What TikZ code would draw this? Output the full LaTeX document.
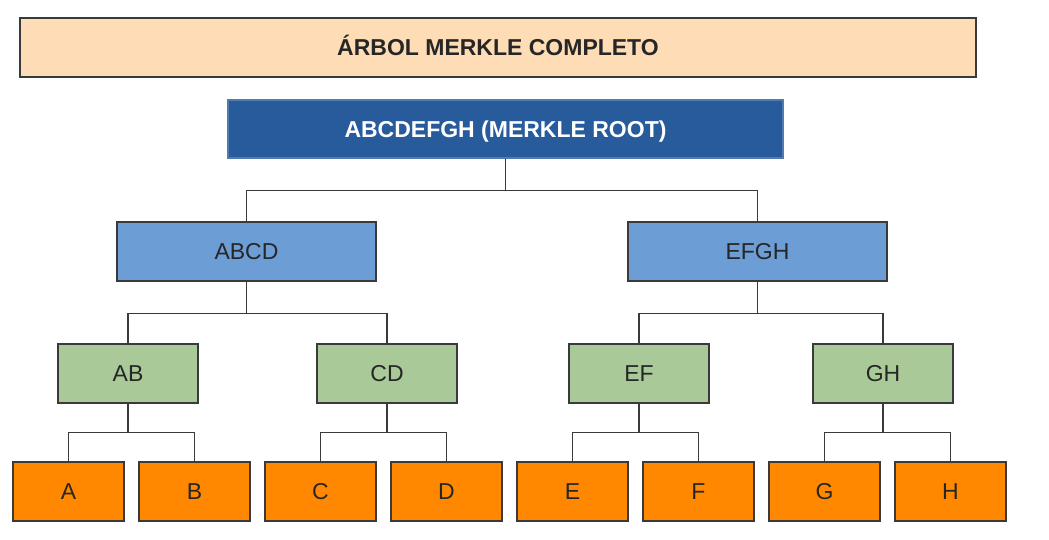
\documentclass[tikz,border=0pt]{standalone}
\usepackage{fontspec}
\setmainfont{Liberation Sans}
\definecolor{peach}{HTML}{FDDCB6}
\definecolor{rootblue}{HTML}{275B9C}
\definecolor{midblue}{HTML}{6D9DD5}
\definecolor{leafgreen}{HTML}{A9C998}
\definecolor{leaforange}{HTML}{FF8800}
\definecolor{edge}{HTML}{3A3A3A}
\begin{document}
\begin{tikzpicture}[x=1pt,y=-1pt,
  box/.style={draw=edge,line width=1.4pt,inner sep=0pt,anchor=center,
    text height=16.5pt,text depth=0pt,
    font=\fontsize{23}{27}\selectfont,text=black!85},
  titlebox/.style={box,fill=peach,minimum width=956pt,minimum height=59pt,font=\fontsize{23}{27}\selectfont\bfseries},
  rootbox/.style={box,draw=rootblue!80,fill=rootblue,text=white,minimum width=555pt,minimum height=58pt,font=\fontsize{23}{27}\selectfont\bfseries},
  hashbox/.style={box,fill=midblue,minimum width=259pt,minimum height=59pt},
  pairbox/.style={box,fill=leafgreen,minimum width=140pt,minimum height=59pt},
  leafbox/.style={box,fill=leaforange,minimum width=111pt,minimum height=59pt},
  link/.style={draw=edge,line width=1.4pt}]
\useasboundingbox (0,0) rectangle (1049,539);
\node[titlebox] (title) at (498,47.5) {ÁRBOL MERKLE COMPLETO};
\node[rootbox] (root) at (505.5,129) {ABCDEFGH (MERKLE ROOT)};
\node[hashbox] (abcd) at (246.5,251.5) {ABCD};
\node[hashbox] (efgh) at (757.5,251.5) {EFGH};
\node[pairbox] (ab) at (128,373.5) {AB};
\node[pairbox] (cd) at (387,373.5) {CD};
\node[pairbox] (ef) at (639,373.5) {EF};
\node[pairbox] (gh) at (883,373.5) {GH};
\node[leafbox] (a) at (68.5,491.5) {A};
\node[leafbox] (b) at (194.5,491.5) {B};
\node[leafbox] (c) at (320.5,491.5) {C};
\node[leafbox] (d) at (446.5,491.5) {D};
\node[leafbox] (e) at (572.5,491.5) {E};
\node[leafbox] (f) at (698.5,491.5) {F};
\node[leafbox] (g) at (824.5,491.5) {G};
\node[leafbox] (h) at (950.5,491.5) {H};
% connectors
\coordinate (j0) at ([yshift=-32pt]root.south);
\draw[link] (root.south) -- (j0);
\draw[link] (abcd.north) |- (j0) -| (efgh.north);
\foreach \p/\l/\r in {abcd/ab/cd, efgh/ef/gh}{
  \coordinate (j\p) at ([yshift=-32pt]\p.south);
  \draw[link] (\p.south) -- (j\p);
  \draw[link] (\l.north) |- (j\p) -| (\r.north);
}
\foreach \p/\l/\r in {ab/a/b, cd/c/d, ef/e/f, gh/g/h}{
  \coordinate (k\p) at ([yshift=-29pt]\p.south);
  \draw[link] (\p.south) -- (k\p);
  \draw[link] (\l.north) |- (k\p) -| (\r.north);
}
\end{tikzpicture}
\end{document}
